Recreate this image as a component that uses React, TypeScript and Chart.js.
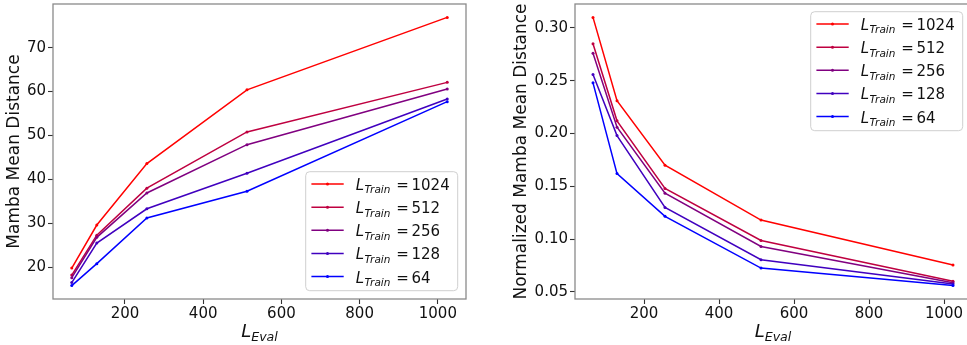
import React, { useEffect, useRef } from "react";
import { Chart, registerables } from "chart.js";

Chart.register(...registerables);

const FONT = '"DejaVu Sans", "Liberation Sans", sans-serif';

// Evaluation lengths on the x axis and the training lengths of each series
const evalLengths = [64, 128, 256, 512, 1024];
const trainLengths = [1024, 512, 256, 128, 64];
const seriesColors = [
  "rgb(255,0,0)",
  "rgb(191,0,64)",
  "rgb(128,0,128)",
  "rgb(64,0,191)",
  "rgb(0,0,255)",
];

// Mamba mean distance per training length
const dist1024 = [19.8, 29.6, 43.6, 60.4, 76.9];
const dist512 = [18.2, 27.3, 38.0, 50.8, 62.1];
const dist256 = [17.6, 26.8, 36.9, 47.9, 60.6];
const dist128 = [16.5, 25.5, 33.3, 41.4, 58.3];
const dist64 = [15.8, 20.8, 31.2, 37.3, 57.7];

// Normalized Mamba mean distance per training length
const norm1024 = [0.31, 0.231, 0.17, 0.118, 0.0754];
const norm512 = [0.285, 0.212, 0.148, 0.0987, 0.0601];
const norm256 = [0.276, 0.206, 0.1435, 0.093, 0.0585];
const norm128 = [0.256, 0.198, 0.13, 0.0804, 0.0575];
const norm64 = [0.248, 0.162, 0.1215, 0.0725, 0.0559];

const xTicks = [200, 400, 600, 800, 1000];
const leftYTicks = [20, 30, 40, 50, 60, 70];
const rightYTicks = [0.05, 0.1, 0.15, 0.2, 0.25, 0.3];

type PanelProps = {
  series: number[][];
  yMin: number;
  yMax: number;
  yTicks: number[];
  yDecimals: number;
  yTitle: string;
  yTitleX: number;
  yAxisWidth: number;
  padRight: number;
  width: number;
  left: number;
  legendAt: "top" | "bottom";
};

function drawLegend(ctx: CanvasRenderingContext2D, area: any, at: "top" | "bottom") {
  const w = 152;
  const h = 119;
  const x = area.right - 8.3 - w;
  const y = at === "top" ? area.top + 7.7 : area.bottom - 8.3 - h;
  ctx.save();
  ctx.beginPath();
  (ctx as any).roundRect(x, y, w, h, 4);
  ctx.fillStyle = "rgba(255,255,255,0.8)";
  ctx.fill();
  ctx.strokeStyle = "#cfcfcf";
  ctx.lineWidth = 1;
  ctx.stroke();
  trainLengths.forEach((len, i) => {
    const cy = y + 12.4 + i * 23.1;
    ctx.strokeStyle = seriesColors[i];
    ctx.lineWidth = 1.5;
    ctx.beginPath();
    ctx.moveTo(x + 5.7, cy);
    ctx.lineTo(x + 38, cy);
    ctx.stroke();
    ctx.fillStyle = seriesColors[i];
    ctx.beginPath();
    ctx.arc(x + 21.8, cy, 1.5, 0, Math.PI * 2);
    ctx.fill();
    const tx = x + 50;
    ctx.fillStyle = "#111";
    ctx.textAlign = "left";
    ctx.textBaseline = "alphabetic";
    ctx.font = `italic 15px ${FONT}`;
    ctx.fillText("L", tx, cy + 6);
    ctx.font = `italic 10.5px ${FONT}`;
    ctx.fillText("Train", tx + 8.8, cy + 9.3);
    ctx.font = `15px ${FONT}`;
    ctx.fillText("=", tx + 40.5, cy + 6);
    ctx.fillText(String(len), tx + 55.8, cy + 6);
  });
  ctx.restore();
}

function Panel(p: PanelProps) {
  const ref = useRef<HTMLCanvasElement>(null);
  useEffect(() => {
    const canvas = ref.current!;
    const decor = {
      id: "decor",
      afterDatasetsDraw(chart: any) {
        const { ctx, chartArea: a } = chart;
        ctx.save();
        // axes frame
        ctx.strokeStyle = "#8a8a8a";
        ctx.lineWidth = 1.3;
        ctx.strokeRect(a.left, a.top, a.right - a.left, a.bottom - a.top);
        // y title
        ctx.fillStyle = "#111";
        ctx.font = `17px ${FONT}`;
        ctx.textAlign = "center";
        ctx.textBaseline = "middle";
        ctx.translate(p.yTitleX, (a.top + a.bottom) / 2);
        ctx.rotate(-Math.PI / 2);
        ctx.fillText(p.yTitle, 0, 0);
        ctx.restore();
        // x title: L with subscript Eval
        ctx.save();
        ctx.fillStyle = "#111";
        ctx.textBaseline = "alphabetic";
        ctx.textAlign = "left";
        ctx.font = `italic 18px ${FONT}`;
        const wL = ctx.measureText("L").width;
        ctx.font = `italic 12.6px ${FONT}`;
        const wSub = ctx.measureText("Eval").width;
        const x0 = (a.left + a.right) / 2 - (wL + wSub) / 2;
        ctx.font = `italic 18px ${FONT}`;
        ctx.fillText("L", x0, 337.3);
        ctx.font = `italic 12.6px ${FONT}`;
        ctx.fillText("Eval", x0 + wL, 340.7);
        ctx.restore();
        drawLegend(ctx, a, p.legendAt);
      },
    };
    const chart = new Chart(canvas, {
      type: "line",
      data: {
        datasets: p.series.map((vals, i) => ({
          label: String(trainLengths[i]),
          data: evalLengths.map((x, j) => ({ x, y: vals[j] })),
          borderColor: seriesColors[i],
          backgroundColor: seriesColors[i],
          borderWidth: 1.5,
          pointRadius: 1.5,
          pointBorderWidth: 0,
          tension: 0,
          order: p.series.length - 1 - i,
        })),
      },
      options: {
        animation: false,
        responsive: false,
        devicePixelRatio: 1,
        layout: { padding: { top: 4, right: p.padRight, left: 0, bottom: 0 } },
        plugins: { legend: { display: false }, tooltip: { enabled: false } },
        scales: {
          x: {
            type: "linear",
            min: 16,
            max: 1072,
            afterBuildTicks: (s: any) => {
              s.ticks = xTicks.map((v) => ({ value: v }));
            },
            afterFit: (s: any) => {
              s.height = 46;
              s.paddingLeft = 0;
              s.paddingRight = 0;
            },
            grid: { drawOnChartArea: false, drawTicks: true, tickLength: 5, tickColor: "#333", tickWidth: 1.1 },
            border: { display: false },
            ticks: {
              font: { family: FONT, size: 15 },
              color: "#111",
              padding: 1,
              maxRotation: 0,
              autoSkip: false,
              callback: (v: any) => String(v),
            },
          },
          y: {
            type: "linear",
            min: p.yMin,
            max: p.yMax,
            afterBuildTicks: (s: any) => {
              s.ticks = p.yTicks.map((v) => ({ value: v }));
            },
            afterFit: (s: any) => {
              s.width = p.yAxisWidth;
              s.paddingTop = 0;
              s.paddingBottom = 0;
            },
            grid: { drawOnChartArea: false, drawTicks: true, tickLength: 5, tickColor: "#333", tickWidth: 1.1 },
            border: { display: false },
            ticks: {
              font: { family: FONT, size: 15 },
              color: "#111",
              padding: 2,
              autoSkip: false,
              callback: (v: any) => Number(v).toFixed(p.yDecimals),
            },
          },
        },
      },
      plugins: [decor],
    } as any);
    return () => chart.destroy();
  }, []);
  return (
    <canvas
      ref={ref}
      width={p.width}
      height={345}
      style={{ position: "absolute", left: p.left, top: 0, width: p.width, height: 345 }}
    />
  );
}

export default function App() {
  return (
    <div
      style={{
        position: "absolute",
        left: 0,
        top: 0,
        width: 967,
        height: 345,
        overflow: "hidden",
        background: "#fff",
      }}
    >
      <Panel
        series={[dist1024, dist512, dist256, dist128, dist64]}
        yMin={12.75}
        yMax={79.95}
        yTicks={leftYTicks}
        yDecimals={0}
        yTitle="Mamba Mean Distance"
        yTitleX={15}
        yAxisWidth={53}
        padRight={17}
        width={483}
        left={0}
        legendAt="bottom"
      />
      <Panel
        series={[norm1024, norm512, norm256, norm128, norm64]}
        yMin={0.0432}
        yMax={0.3227}
        yTicks={rightYTicks}
        yDecimals={2}
        yTitle="Normalized Mamba Mean Distance"
        yTitleX={38.7}
        yAxisWidth={92}
        padRight={2}
        width={492}
        left={483}
        legendAt="top"
      />
    </div>
  );
}
